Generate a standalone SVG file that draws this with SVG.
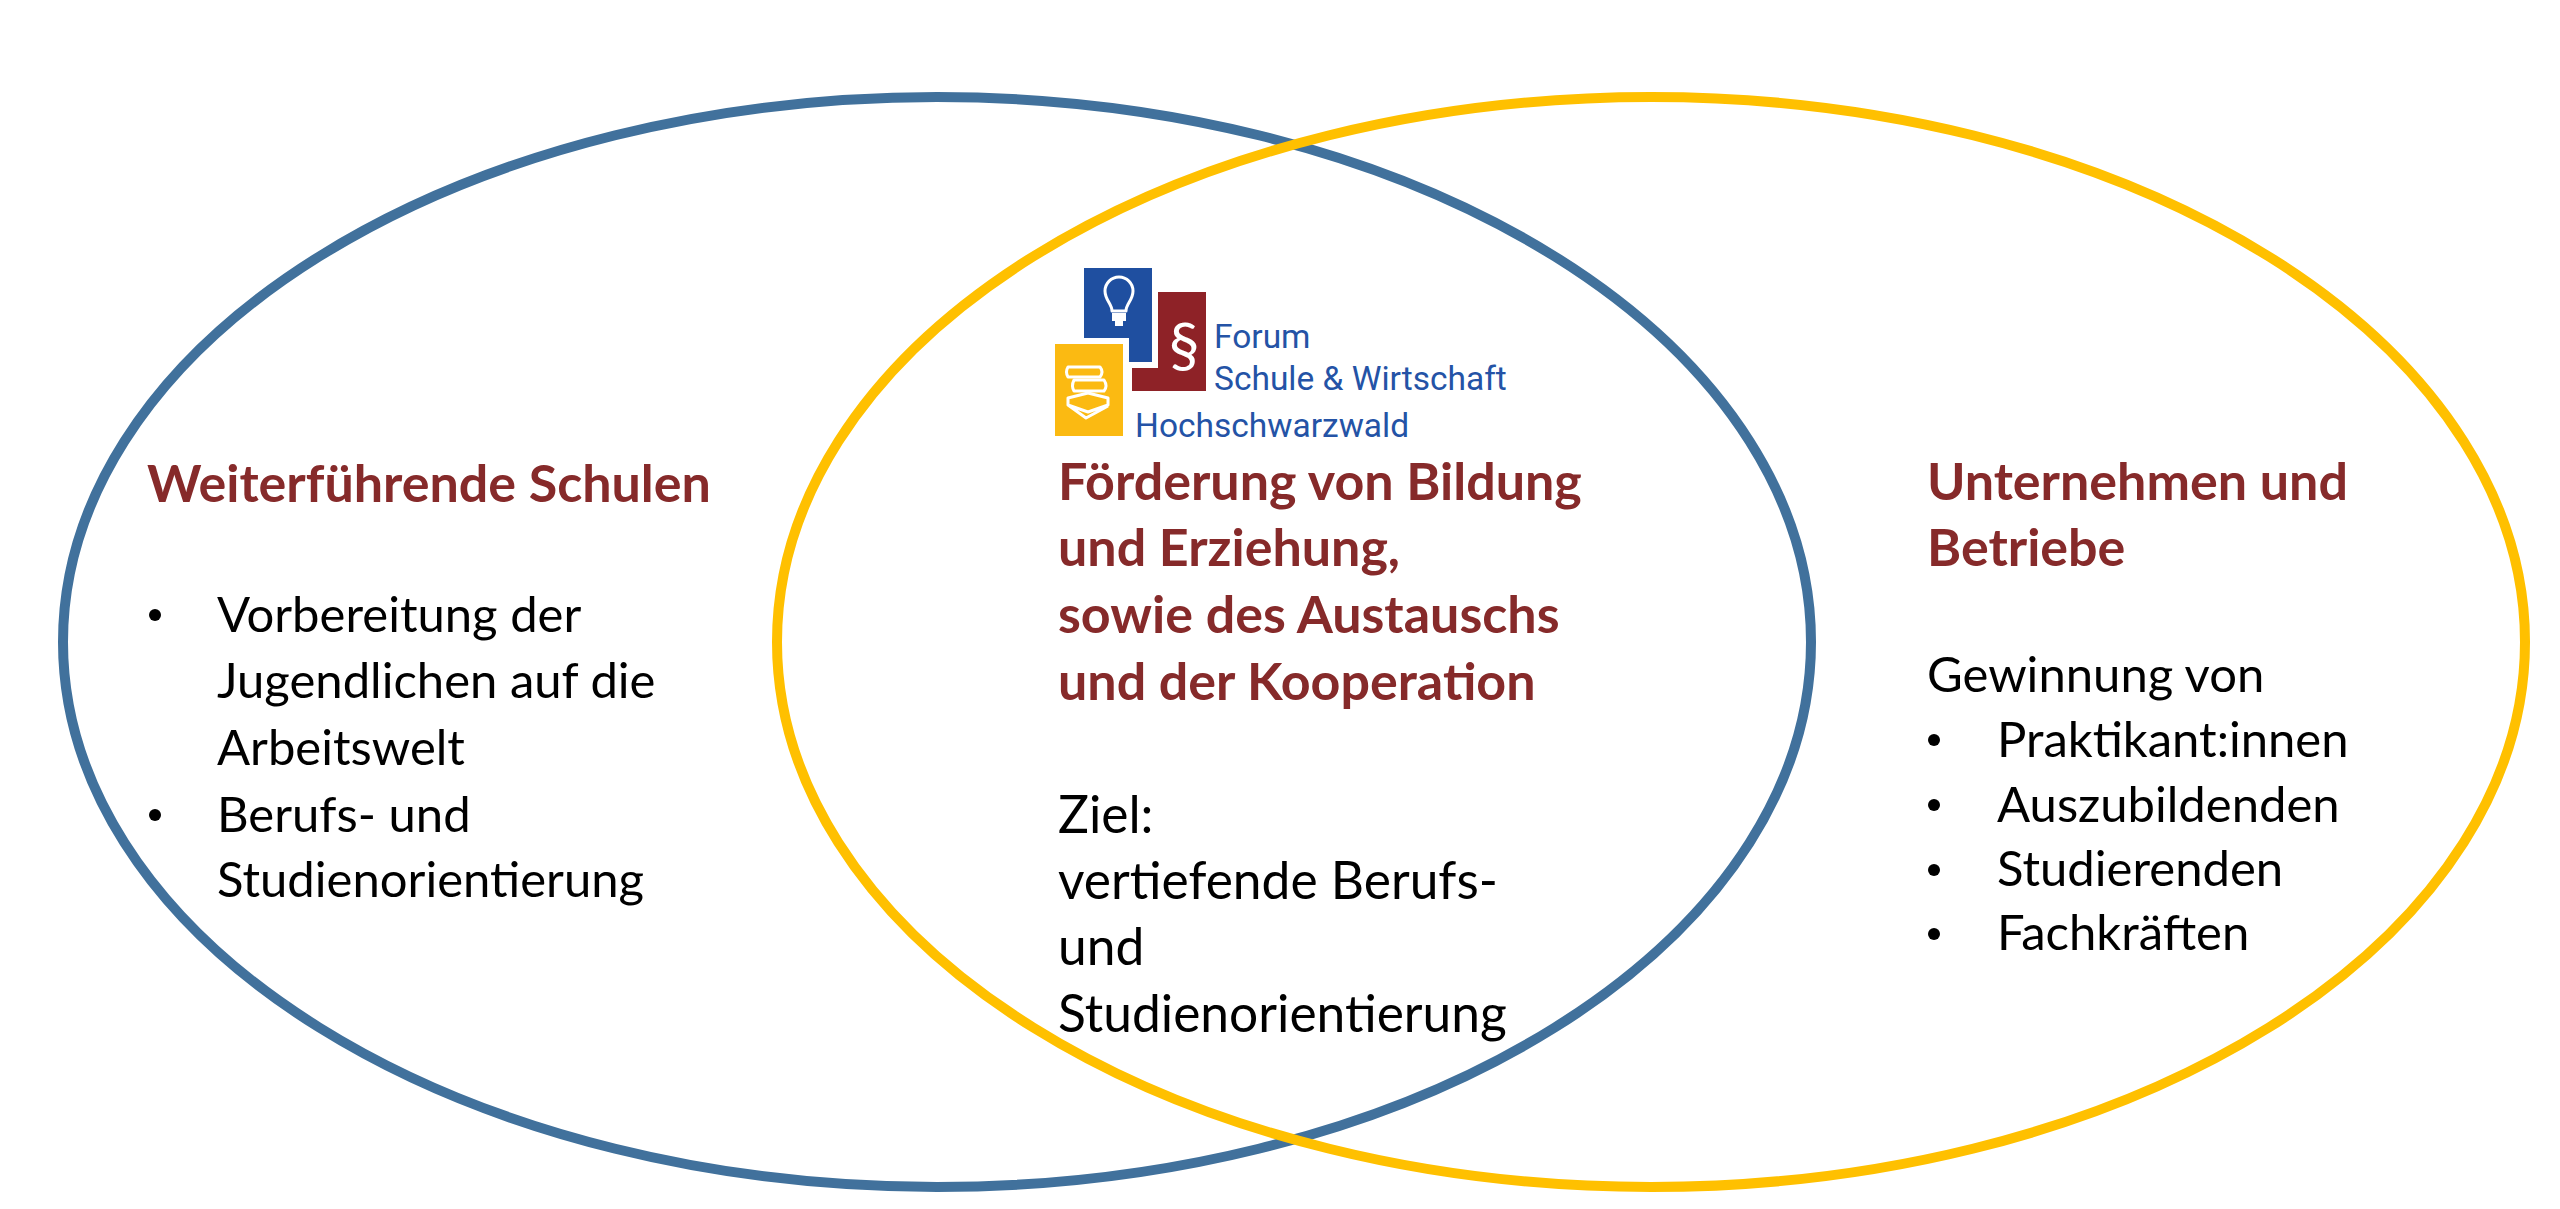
<svg xmlns="http://www.w3.org/2000/svg" width="2560" height="1209" viewBox="0 0 2560 1209">
<style>
.ring{fill:none;stroke-width:10}
.head{font-family:Lato,"Liberation Sans",sans-serif;font-weight:bold;font-size:52px;fill:#862A2A}
.body{font-family:Lato,"Liberation Sans",sans-serif;font-size:49px;fill:#000}
.cbody{font-family:Lato,"Liberation Sans",sans-serif;font-size:51.5px;fill:#000}
.logo{font-family:Roboto,"Open Sans",sans-serif;font-size:33.5px;fill:#2453A6}
.ico{fill:none;stroke:#fff;stroke-width:3;stroke-linejoin:round}
</style>
<rect width="2560" height="1209" fill="#fff"/>
<g id="circles">
<ellipse id="schulen-ring" class="ring" cx="937" cy="642" rx="874" ry="545" stroke="#41719C"/>
<ellipse id="betriebe-ring" class="ring" cx="1651" cy="642" rx="874" ry="545" stroke="#FFC000"/>
</g>
<g id="logo">
<rect x="1132" y="292" width="74" height="99" fill="#8E2227"/>
<rect x="1081" y="265" width="74" height="100" fill="#1F4FA0" stroke="#fff" stroke-width="6"/>
<rect x="1052" y="341" width="74" height="98" fill="#FBBA12" stroke="#fff" stroke-width="6"/>
<path class="ico" d="M1112 311 C1112 304 1105 300 1105 291 A14 14 0 1 1 1133 291 C1133 300 1126 304 1126 311 Z"/>
<rect x="1112" y="313" width="14" height="8" fill="#fff"/>
<rect x="1115" y="321" width="8" height="5" fill="#fff"/>
<text x="1184" y="368" font-family="Lato,'Liberation Sans',sans-serif" font-size="62" fill="#fff" text-anchor="middle">§</text>
<path class="ico" d="M1068 367 H1100 Q1104 372 1100 377 H1068 Q1065 372 1068 367 Z"/>
<path class="ico" d="M1074 380 H1104 Q1108 386 1104 391 H1074 Q1071 386 1074 380 Z"/>
<path class="ico" d="M1068 398 L1088 393 L1108 398 L1108 405 L1088 412 L1068 405 Z M1068 405 L1086 418 L1108 406"/>
<text class="logo" x="1214" y="348">Forum</text>
<text class="logo" x="1214" y="390">Schule &amp; Wirtschaft</text>
<text class="logo" x="1135" y="437">Hochschwarzwald</text>
</g>
<g id="schulen">
<text class="head" x="147" y="502">Weiterführende Schulen</text>
<circle cx="155" cy="615" r="6"/>
<circle cx="155" cy="815" r="6"/>
<text class="body" x="217" y="632">Vorbereitung der</text>
<text class="body" x="217" y="698">Jugendlichen auf die</text>
<text class="body" x="217" y="765">Arbeitswelt</text>
<text class="body" x="217" y="832">Berufs- und</text>
<text class="body" x="217" y="897">Studienorientierung</text>
</g>
<g id="forum">
<text class="head" x="1058" y="500">Förderung von Bildung</text>
<text class="head" x="1058" y="566">und Erziehung,</text>
<text class="head" x="1058" y="633">sowie des Austauschs</text>
<text class="head" x="1058" y="700">und der Kooperation</text>
<text class="cbody" x="1058" y="833">Ziel:</text>
<text class="cbody" x="1058" y="899">vertiefende Berufs-</text>
<text class="cbody" x="1058" y="965">und</text>
<text class="cbody" x="1058" y="1032">Studienorientierung</text>
</g>
<g id="betriebe">
<text class="head" x="1927" y="500">Unternehmen und</text>
<text class="head" x="1927" y="566">Betriebe</text>
<text class="body" x="1927" y="692">Gewinnung von</text>
<circle cx="1934" cy="740" r="6"/>
<circle cx="1934" cy="805" r="6"/>
<circle cx="1934" cy="870" r="6"/>
<circle cx="1934" cy="934" r="6"/>
<text class="body" x="1997" y="757">Praktikant:innen</text>
<text class="body" x="1997" y="822">Auszubildenden</text>
<text class="body" x="1997" y="886">Studierenden</text>
<text class="body" x="1997" y="950">Fachkräften</text>
</g>
</svg>
